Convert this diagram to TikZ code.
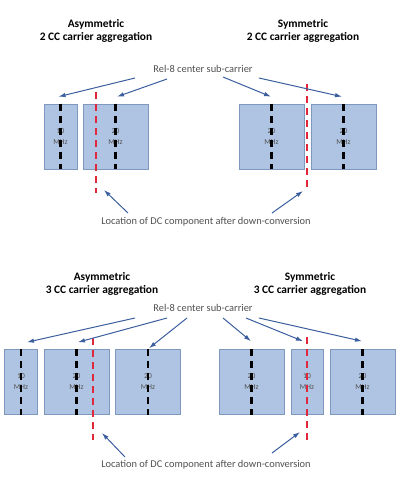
\documentclass[tikz,border=0pt]{standalone}
\usepackage{fontspec}
\setmainfont{Carlito}
\usepackage{xcolor}
\usetikzlibrary{arrows.meta,positioning,calc}
\definecolor{ccfill}{HTML}{AFC3E2}
\definecolor{ccline}{HTML}{7F98BE}
\definecolor{arrblue}{HTML}{3B5E9E}
\definecolor{txtgrey}{HTML}{505050}
\definecolor{dcred}{HTML}{E0283A}

\begin{document}
\begin{tikzpicture}[
  x=1pt, y=-1pt,
  title/.style={font=\fontsize{11.4}{13.5}\selectfont\bfseries, align=center, text=black},
  note/.style={font=\fontsize{10.4}{12}\selectfont, text=txtgrey},
  cc/.style={draw=ccline, fill=ccfill, line width=0.6pt, minimum height=65pt,
    inner sep=0pt, align=center, font=\fontsize{7.5}{11}\selectfont, text=txtgrey},
  cc10/.style={cc, minimum width=33pt},
  cc20/.style={cc, minimum width=65pt},
  center/.style={draw=black, line width=2.2pt, dash pattern=on 7pt off 5pt},
  dc/.style={draw=dcred, line width=2.2pt, dash pattern=on 7pt off 5pt},
  arr/.style={-{Latex[length=7pt,width=4.5pt]}, draw=arrblue, line width=1pt}
]
\useasboundingbox (0,0) rectangle (400,477);

% ---- 2 CC ----
\node[title] (t1) at (96,31) {Asymmetric\\2 CC carrier aggregation};
\node[title] (t2) at (303,31) {Symmetric\\2 CC carrier aggregation};
\node[note] (rel1) at (203,69) {Rel-8 center sub-carrier};

\node[cc10] (a1) at (60.5,136.5) {10\\MHz};
\node[cc20] (a2) at (115.5,136.5) {20\\MHz};
\node[cc20] (s1) at (271.5,136.5) {20\\MHz};
\node[cc20] (s2) at (343.5,136.5) {20\\MHz};

\foreach \b in {a1,a2,s1,s2}
  \draw[center] (\b.north) -- (\b.south);

\coordinate (dca) at (96,92);
\coordinate (dcs) at (307,84);
\draw[dc] (dca) -- ++(0,101);
\draw[dc] (dcs) -- ++(0,104);

\coordinate (r1a) at (135,78);
\coordinate (r1b) at (167,79);
\coordinate (r1c) at (223,77);
\coordinate (r1d) at (259,78);
\draw[arr] (r1a) -- ($(a1.north)+(-2,-7)$);
\draw[arr] (r1b) -- ($(a2.north)+(1.5,-7)$);
\draw[arr] (r1c) -- ($(s1.north)+(-0.5,-7)$);
\draw[arr] (r1d) -- ($(s2.north)+(-1.5,-7)$);

\node[note] (dc1) at (206,222) {Location of DC component after down-conversion};
\coordinate (l1a) at (128,213);
\coordinate (l1b) at (272,213);
\draw[arr] (l1a) -- ($(dca)+(8,98)$);
\draw[arr] (l1b) -- ($(dcs)+(-4,107)$);

% ---- 3 CC ----
\node[title] (t3) at (102,284) {Asymmetric\\3 CC carrier aggregation};
\node[title] (t4) at (310,284) {Symmetric\\3 CC carrier aggregation};
\node[note] (rel2) at (203,308) {Rel-8 center sub-carrier};

\node[cc10] (b1) at (21,382) {10\\MHz};
\node[cc20] (b2) at (76.5,382) {20\\MHz};
\node[cc20] (b3) at (148,382) {20\\MHz};
\node[cc20] (y1) at (251.5,382) {20\\MHz};
\node[cc10, minimum width=32pt] (y2) at (307,382) {10\\MHz};
\node[cc20] (y3) at (362.5,382) {20\\MHz};

\foreach \b in {b1,b2,b3,y1,y2,y3}
  \draw[center] (\b.north) -- (\b.south);

\coordinate (dcb) at (93,338);
\coordinate (dcy) at (307,337);
\draw[dc] (dcb) -- ++(0,102);
\draw[dc] (dcy) -- ++(0,103);

\coordinate (r2a) at (135,318);
\coordinate (r2b) at (167,318);
\coordinate (r2c) at (187,318);
\coordinate (r2d) at (223,318);
\coordinate (r2e) at (246,318);
\coordinate (r2f) at (259,318);
\draw[arr] (r2a) -- ($(b1.north)+(6,-7)$);
\draw[arr] (r2b) -- ($(b2.north)+(1.5,-7)$);
\draw[arr] (r2c) -- ($(b3.north)+(1,-1)$);
\draw[arr] (r2d) -- ($(y1.north)+(-0.5,-8)$);
\draw[arr] (r2e) -- ($(y2.north)+(-4,-8)$);
\draw[arr] (r2f) -- ($(y3.north)+(-0.5,-8)$);

\node[note] (dc2) at (206,465) {Location of DC component after down-conversion};
\coordinate (l2a) at (125,457);
\coordinate (l2b) at (272,453);
\draw[arr] (l2a) -- ($(dcb)+(9,95)$);
\draw[arr] (l2b) -- ($(dcy)+(-7,95)$);

\end{tikzpicture}
\end{document}
